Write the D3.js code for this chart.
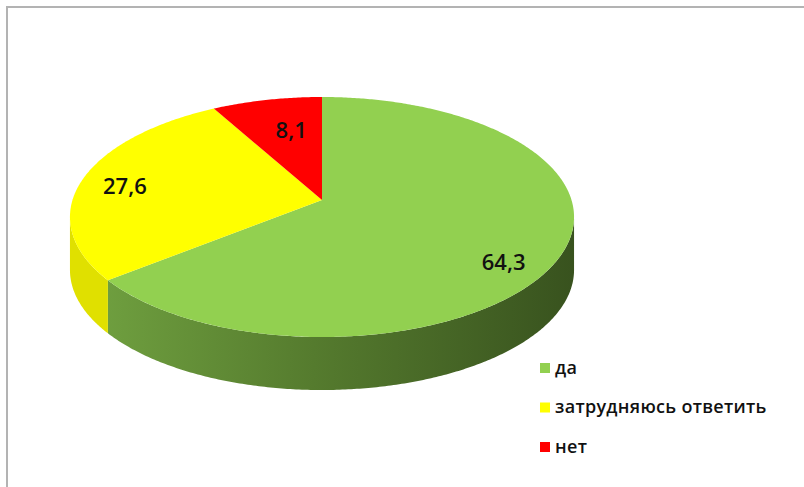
<!DOCTYPE html>
<html>
<head>
<meta charset="utf-8">
<script src="https://cdn.jsdelivr.net/npm/d3@7"></script>
<style>
  html, body { margin: 0; padding: 0; background: #fff; }
  svg { display: block; }
</style>
</head>
<body>
<div id="chart"></div>
<script>
const categories = ["да", "затрудняюсь ответить", "нет"];
const values = [64.3, 27.6, 8.1];
const labels = ["64,3", "27,6", "8,1"];
const topColors = ["#92d050", "#ffff00", "#ff0000"];
const sideColors = ["url(#greenSide)", "#e0e000", "#c00000"];

const width = 804, height = 487;

const svg = d3.select("#chart")
  .append("svg")
  .attr("width", width)
  .attr("height", height);

// frame (top + left edges only are visible)
svg.append("line").attr("x1", 6).attr("y1", 7).attr("x2", width).attr("y2", 7)
  .attr("stroke", "#b3b3b3").attr("stroke-width", 2);
svg.append("line").attr("x1", 7).attr("y1", 6).attr("x2", 7).attr("y2", height)
  .attr("stroke", "#b3b3b3").attr("stroke-width", 2);

const defs = svg.append("defs");
const grad = defs.append("linearGradient")
  .attr("id", "greenSide")
  .attr("gradientUnits", "userSpaceOnUse")
  .attr("x1", 100).attr("y1", 0).attr("x2", 575).attr("y2", 0);
grad.append("stop").attr("offset", 0).attr("stop-color", "#6f9f3f");
grad.append("stop").attr("offset", 0.45).attr("stop-color", "#557b2e");
grad.append("stop").attr("offset", 1).attr("stop-color", "#38521e");

// perspective projection of a unit disc (angle clockwise from 12 o'clock)
const cx = 322, A = 249.5, P = 89.26, Q = 200, K = 0.1417, depth = 53;
function proj(a, f = 1, dz = 0) {
  const u = f * Math.sin(a), v = -f * Math.cos(a);
  const w = 1 - K * v;
  return [cx + A * u / w, (P * v + Q) / w + dz];
}

const pie = d3.pie().sort(null).value(d => d);
const arcs = pie(values);

function topPath(d) {
  const pts = [proj(0, 0)];
  const n = Math.max(4, Math.ceil((d.endAngle - d.startAngle) / 0.01));
  for (let i = 0; i <= n; i++) {
    pts.push(proj(d.startAngle + (d.endAngle - d.startAngle) * i / n));
  }
  return d3.line()(pts) + "Z";
}

// side wall is visible between the two silhouette angles
const sil0 = Math.acos(-K), sil1 = 2 * Math.PI - Math.acos(-K);
function sidePath(d) {
  const a0 = Math.max(d.startAngle, sil0), a1 = Math.min(d.endAngle, sil1);
  if (a1 <= a0) return null;
  const n = Math.ceil((a1 - a0) / 0.01);
  const upper = [], lower = [];
  for (let i = 0; i <= n; i++) {
    const a = a0 + (a1 - a0) * i / n;
    upper.push(proj(a));
    lower.push(proj(a, 1, depth));
  }
  return d3.line()(upper.concat(lower.reverse())) + "Z";
}

svg.append("g").selectAll("path")
  .data(arcs.filter(d => sidePath(d)))
  .join("path")
  .attr("d", sidePath)
  .attr("fill", d => sideColors[d.index]);

svg.append("g").selectAll("path")
  .data(arcs)
  .join("path")
  .attr("d", topPath)
  .attr("fill", d => topColors[d.index]);

// data labels
const labelFrac = [0.77, 0.815, 0.6];
const labelNudge = [[0, 21], [-2, 4], [4, -7]];
svg.append("g").selectAll("text")
  .data(arcs)
  .join("text")
  .attr("x", d => proj((d.startAngle + d.endAngle) / 2, labelFrac[d.index])[0] + labelNudge[d.index][0])
  .attr("y", d => proj((d.startAngle + d.endAngle) / 2, labelFrac[d.index])[1] + labelNudge[d.index][1])
  .attr("text-anchor", "middle")
  .attr("dy", "0.36em")
  .style("font-family", "'Open Sans', sans-serif")
  .style("font-size", "22px")
  .style("font-weight", 600)
  .style("fill", "#111")
  .text((d, i) => labels[i]);

// legend
const legend = svg.append("g").attr("transform", "translate(540,363)");
const item = legend.selectAll("g")
  .data(categories)
  .join("g")
  .attr("transform", (d, i) => `translate(0,${i * 39.5})`);
item.append("rect")
  .attr("width", 10).attr("height", 10)
  .attr("fill", (d, i) => topColors[i]);
item.append("text")
  .attr("x", 15)
  .attr("y", 10.5)
  .style("font-family", "'Open Sans', sans-serif")
  .style("font-size", "18px")
  .style("font-weight", 600)
  .style("letter-spacing", "0.3px")
  .style("fill", "#111")
  .text(d => d);
</script>
</body>
</html>
